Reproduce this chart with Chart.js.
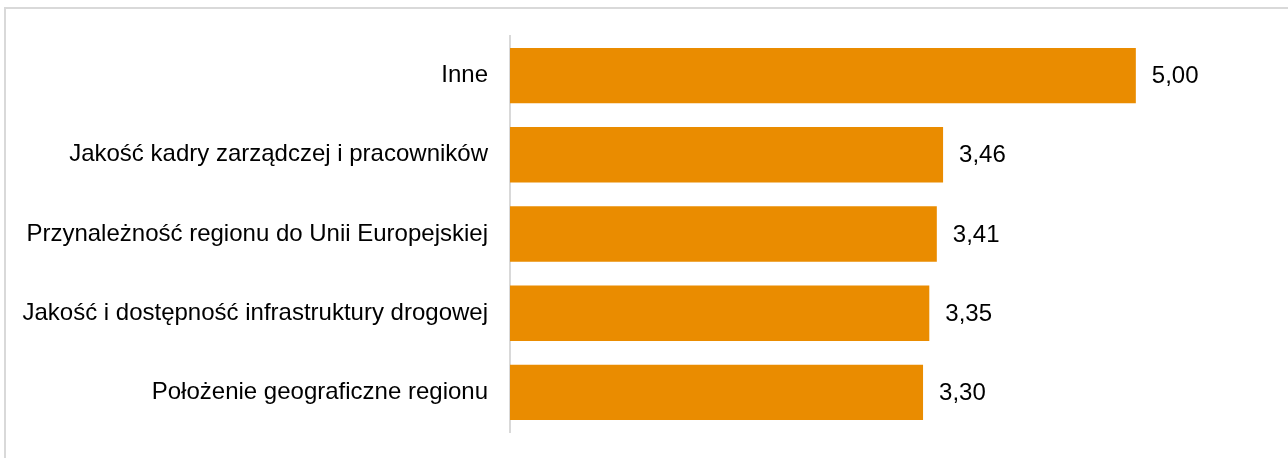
<!DOCTYPE html>
<html lang="pl">
<head>
<meta charset="utf-8">
<title>Czynniki lokalizacji</title>
<script src="https://cdn.jsdelivr.net/npm/chart.js@4/dist/chart.umd.min.js"></script>
<style>
  html, body { margin:0; padding:0; background:#fff; }
  #wrap { position:relative; width:1288px; height:458px; }
  #frame { position:absolute; left:4px; top:7px; right:0; bottom:0;
           border-top:2px solid #d9d9d9; border-left:2px solid #d9d9d9; pointer-events:none; }
  canvas { position:absolute; left:0; top:0; }
</style>
</head>
<body>
<div id="wrap">
  <canvas id="chart" width="1288" height="458"></canvas>
  <div id="frame"></div>
</div>
<script>
// oceny czynników (skala 1-5), od góry do dołu
const categories = [
  'Inne',
  'Jakość kadry zarządczej i pracowników',
  'Przynależność regionu do Unii Europejskiej',
  'Jakość i dostępność infrastruktury drogowej',
  'Położenie geograficzne regionu'
];
const values = [5.00, 3.46, 3.41, 3.35, 3.30];

const FONT = 'Arial, "Liberation Sans", sans-serif';
const FONT_SIZE = 24;
const BAR_COLOR = '#ea8c00';

const fmt = v => v.toFixed(2).replace('.', ',');

// etykiety wartości za końcem słupka
const valueLabels = {
  id: 'valueLabels',
  afterDatasetsDraw(chart){
    const { ctx } = chart;
    const meta = chart.getDatasetMeta(0);
    ctx.save();
    ctx.font = `${FONT_SIZE}px ${FONT}`;
    ctx.fillStyle = '#000';
    ctx.textAlign = 'left';
    ctx.textBaseline = 'middle';
    meta.data.forEach((bar, i) => {
      ctx.fillText(fmt(values[i]), bar.x + 16, bar.y + 1);
    });
    ctx.restore();
  }
};

new Chart(document.getElementById('chart'), {
  type: 'bar',
  data: {
    labels: categories,
    datasets: [{
      data: values,
      backgroundColor: BAR_COLOR,
      borderWidth: 0,
      categoryPercentage: 0.7,
      barPercentage: 1.0
    }]
  },
  options: {
    indexAxis: 'y',
    responsive: false,
    animation: false,
    layout: { padding: { top: 36, bottom: 26, left: 0, right: 27 } },
    plugins: { legend: { display: false }, tooltip: { enabled: false } },
    scales: {
      x: { display: false, min: 0, max: 6 },
      y: {
        // stała szerokość osi, bez dodatkowego marginesu od etykiet
        afterFit(s){ s.width = 510; s.paddingTop = 0; s.paddingBottom = 0; },
        grid: { display: false, drawTicks: false },
        border: { display: true, color: '#d9d9d9', width: 2 },
        ticks: { color: '#000', padding: 22, font: { family: FONT, size: FONT_SIZE } }
      }
    }
  },
  plugins: [valueLabels]
});
</script>
</body>
</html>
